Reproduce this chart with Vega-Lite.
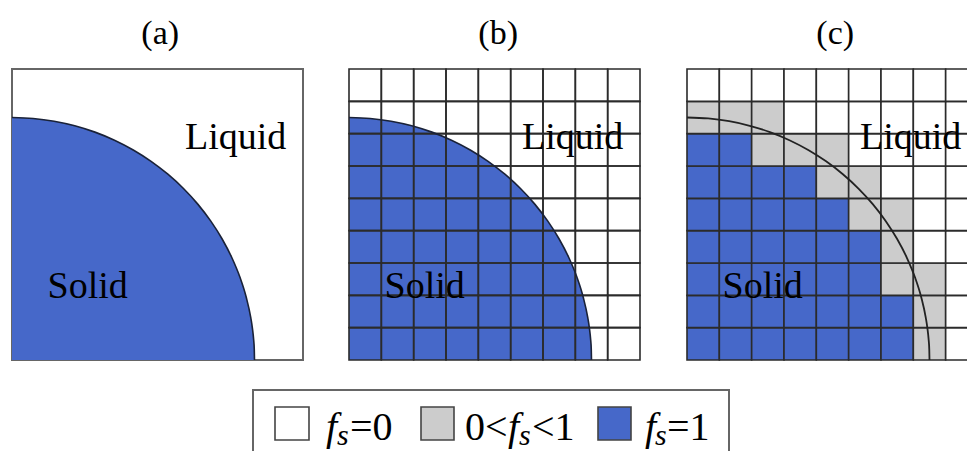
{
  "$schema": "https://vega.github.io/schema/vega-lite/v6.json",
  "width": 967,
  "height": 451,
  "autosize": {"type": "none"},
  "padding": 0,
  "background": "white",
  "config": {"view": {"stroke": null}},
  "datasets": {
    "arc": [
      {"gx": 0, "gy": 7.5}, {"gx": 0.6537, "gy": 7.4714}, {"gx": 1.3024, "gy": 7.3861}, {"gx": 1.9411, "gy": 7.2444},
      {"gx": 2.5652, "gy": 7.0477}, {"gx": 3.1696, "gy": 6.7973}, {"gx": 3.75, "gy": 6.4952}, {"gx": 4.3018, "gy": 6.1436},
      {"gx": 4.8209, "gy": 5.7453}, {"gx": 5.3033, "gy": 5.3033}, {"gx": 5.7453, "gy": 4.8209}, {"gx": 6.1436, "gy": 4.3018},
      {"gx": 6.4952, "gy": 3.75}, {"gx": 6.7973, "gy": 3.1696}, {"gx": 7.0477, "gy": 2.5652}, {"gx": 7.2444, "gy": 1.9411},
      {"gx": 7.3861, "gy": 1.3024}, {"gx": 7.4358, "gy": 0.979}, {"gx": 7.4714, "gy": 0.6537}, {"gx": 7.4929, "gy": 0.3271}, {"gx": 7.5, "gy": 0}
    ],
    "cells": [
      {"c":0,"r":0,"fs":"1"},{"c":1,"r":0,"fs":"1"},{"c":2,"r":0,"fs":"1"},{"c":3,"r":0,"fs":"1"},{"c":4,"r":0,"fs":"1"},{"c":5,"r":0,"fs":"1"},{"c":6,"r":0,"fs":"1"},{"c":7,"r":0,"fs":"0-1"},{"c":8,"r":0,"fs":"0"},
      {"c":0,"r":1,"fs":"1"},{"c":1,"r":1,"fs":"1"},{"c":2,"r":1,"fs":"1"},{"c":3,"r":1,"fs":"1"},{"c":4,"r":1,"fs":"1"},{"c":5,"r":1,"fs":"1"},{"c":6,"r":1,"fs":"1"},{"c":7,"r":1,"fs":"0-1"},{"c":8,"r":1,"fs":"0"},
      {"c":0,"r":2,"fs":"1"},{"c":1,"r":2,"fs":"1"},{"c":2,"r":2,"fs":"1"},{"c":3,"r":2,"fs":"1"},{"c":4,"r":2,"fs":"1"},{"c":5,"r":2,"fs":"1"},{"c":6,"r":2,"fs":"0-1"},{"c":7,"r":2,"fs":"0-1"},{"c":8,"r":2,"fs":"0"},
      {"c":0,"r":3,"fs":"1"},{"c":1,"r":3,"fs":"1"},{"c":2,"r":3,"fs":"1"},{"c":3,"r":3,"fs":"1"},{"c":4,"r":3,"fs":"1"},{"c":5,"r":3,"fs":"1"},{"c":6,"r":3,"fs":"0-1"},{"c":7,"r":3,"fs":"0"},{"c":8,"r":3,"fs":"0"},
      {"c":0,"r":4,"fs":"1"},{"c":1,"r":4,"fs":"1"},{"c":2,"r":4,"fs":"1"},{"c":3,"r":4,"fs":"1"},{"c":4,"r":4,"fs":"1"},{"c":5,"r":4,"fs":"0-1"},{"c":6,"r":4,"fs":"0-1"},{"c":7,"r":4,"fs":"0"},{"c":8,"r":4,"fs":"0"},
      {"c":0,"r":5,"fs":"1"},{"c":1,"r":5,"fs":"1"},{"c":2,"r":5,"fs":"1"},{"c":3,"r":5,"fs":"1"},{"c":4,"r":5,"fs":"0-1"},{"c":5,"r":5,"fs":"0-1"},{"c":6,"r":5,"fs":"0"},{"c":7,"r":5,"fs":"0"},{"c":8,"r":5,"fs":"0"},
      {"c":0,"r":6,"fs":"1"},{"c":1,"r":6,"fs":"1"},{"c":2,"r":6,"fs":"0-1"},{"c":3,"r":6,"fs":"0-1"},{"c":4,"r":6,"fs":"0-1"},{"c":5,"r":6,"fs":"0"},{"c":6,"r":6,"fs":"0"},{"c":7,"r":6,"fs":"0"},{"c":8,"r":6,"fs":"0"},
      {"c":0,"r":7,"fs":"0-1"},{"c":1,"r":7,"fs":"0-1"},{"c":2,"r":7,"fs":"0-1"},{"c":3,"r":7,"fs":"0"},{"c":4,"r":7,"fs":"0"},{"c":5,"r":7,"fs":"0"},{"c":6,"r":7,"fs":"0"},{"c":7,"r":7,"fs":"0"},{"c":8,"r":7,"fs":"0"},
      {"c":0,"r":8,"fs":"0"},{"c":1,"r":8,"fs":"0"},{"c":2,"r":8,"fs":"0"},{"c":3,"r":8,"fs":"0"},{"c":4,"r":8,"fs":"0"},{"c":5,"r":8,"fs":"0"},{"c":6,"r":8,"fs":"0"},{"c":7,"r":8,"fs":"0"},{"c":8,"r":8,"fs":"0"}
    ],
    "notes": [
      {"panel": "a", "kind": "title", "text": "(a)", "gx": 4.0, "gy": 9.77},
      {"panel": "a", "kind": "label", "text": "Liquid", "gx": 5.35, "gy": 6.53},
      {"panel": "a", "kind": "label", "text": "Solid", "gx": 1.1, "gy": 1.93},
      {"panel": "b", "kind": "title", "text": "(b)", "gx": 4.0, "gy": 9.77},
      {"panel": "b", "kind": "label", "text": "Liquid", "gx": 5.35, "gy": 6.53},
      {"panel": "b", "kind": "label", "text": "Solid", "gx": 1.1, "gy": 1.93},
      {"panel": "c", "kind": "title", "text": "(c)", "gx": 4.0, "gy": 9.77},
      {"panel": "c", "kind": "label", "text": "Liquid", "gx": 5.35, "gy": 6.53},
      {"panel": "c", "kind": "label", "text": "Solid", "gx": 1.1, "gy": 1.93}
    ],
    "swatches": [
      {"fs": "0", "x0": 22, "x1": 56},
      {"fs": "0-1", "x0": 168, "x1": 201},
      {"fs": "1", "x0": 345, "x1": 378}
    ],
    "legendText": [
      {"part": "f", "text": "f", "lx": 73, "ly": 50},
      {"part": "s", "text": "s", "lx": 84, "ly": 55},
      {"part": "plain", "text": "=0", "lx": 97, "ly": 50},
      {"part": "plain", "text": "0<", "lx": 212, "ly": 50},
      {"part": "f", "text": "f", "lx": 255, "ly": 50},
      {"part": "s", "text": "s", "lx": 266, "ly": 55},
      {"part": "plain", "text": "<1", "lx": 279, "ly": 50},
      {"part": "f", "text": "f", "lx": 392, "ly": 50},
      {"part": "s", "text": "s", "lx": 402, "ly": 55},
      {"part": "plain", "text": "=1", "lx": 414, "ly": 50}
    ]
  },
  "resolve": {"scale": {"x": "independent", "y": "independent", "color": "independent", "size": "independent"}},
  "layer": [
    {
      "data": {"values": [{"panel": "a"}]},
      "mark": {"type": "rect", "fill": "white", "stroke": "#666666", "strokeWidth": 2},
      "encoding": {
        "x": {"datum": 0, "type": "quantitative", "scale": {"domain": [0, 9], "range": [12, 303], "zero": false, "nice": false}, "axis": null},
        "x2": {"datum": 9},
        "y": {"datum": 0, "type": "quantitative", "scale": {"domain": [0, 9], "range": [360, 69], "zero": false, "nice": false}, "axis": null},
        "y2": {"datum": 9}
      }
    },
    {
      "data": {"name": "arc"},
      "mark": {"type": "area", "color": "#4668c9", "opacity": 1, "orient": "vertical", "interpolate": "monotone"},
      "encoding": {
        "x": {"field": "gx", "type": "quantitative", "scale": {"domain": [0, 9], "range": [12, 303], "zero": false, "nice": false}, "axis": null},
        "y": {"field": "gy", "type": "quantitative", "scale": {"domain": [0, 9], "range": [360, 69], "zero": false, "nice": false}, "axis": null},
        "y2": {"datum": 0}
      }
    },
    {
      "data": {"name": "arc"},
      "mark": {"type": "line", "color": "#1a2238", "strokeWidth": 1.6, "interpolate": "monotone"},
      "encoding": {
        "x": {"field": "gx", "type": "quantitative", "scale": {"domain": [0, 9], "range": [12, 303], "zero": false, "nice": false}, "axis": null},
        "y": {"field": "gy", "type": "quantitative", "scale": {"domain": [0, 9], "range": [360, 69], "zero": false, "nice": false}, "axis": null}
      }
    },
    {
      "data": {"name": "notes"},
      "transform": [{"filter": "datum.panel === 'a'"}],
      "mark": {"type": "text", "font": "Liberation Serif", "align": "left", "baseline": "alphabetic", "color": "black"},
      "encoding": {
        "x": {"field": "gx", "type": "quantitative", "scale": {"domain": [0, 9], "range": [12, 303], "zero": false, "nice": false}, "axis": null},
        "y": {"field": "gy", "type": "quantitative", "scale": {"domain": [0, 9], "range": [360, 69], "zero": false, "nice": false}, "axis": null},
        "text": {"field": "text"},
        "size": {"field": "kind", "type": "nominal", "scale": {"domain": ["title", "label"], "range": [34, 38]}, "legend": null}
      }
    },
    {
      "data": {"name": "arc"},
      "mark": {"type": "area", "color": "#4668c9", "opacity": 1, "orient": "vertical", "interpolate": "monotone"},
      "encoding": {
        "x": {"field": "gx", "type": "quantitative", "scale": {"domain": [0, 9], "range": [349, 640], "zero": false, "nice": false}, "axis": null},
        "y": {"field": "gy", "type": "quantitative", "scale": {"domain": [0, 9], "range": [360, 69], "zero": false, "nice": false}, "axis": null},
        "y2": {"datum": 0}
      }
    },
    {
      "data": {"name": "cells"},
      "mark": {"type": "rect", "filled": false, "stroke": "#2b2b2b", "strokeWidth": 1.6},
      "encoding": {
        "x": {"field": "c", "type": "ordinal", "scale": {"domain": [0,1,2,3,4,5,6,7,8], "range": [349, 640], "paddingInner": 0, "paddingOuter": 0}, "axis": null},
        "y": {"field": "r", "type": "ordinal", "scale": {"domain": [8,7,6,5,4,3,2,1,0], "range": [69, 360], "paddingInner": 0, "paddingOuter": 0}, "axis": null}
      }
    },
    {
      "data": {"name": "arc"},
      "mark": {"type": "line", "color": "#1a2238", "strokeWidth": 1.6, "interpolate": "monotone"},
      "encoding": {
        "x": {"field": "gx", "type": "quantitative", "scale": {"domain": [0, 9], "range": [349, 640], "zero": false, "nice": false}, "axis": null},
        "y": {"field": "gy", "type": "quantitative", "scale": {"domain": [0, 9], "range": [360, 69], "zero": false, "nice": false}, "axis": null}
      }
    },
    {
      "data": {"name": "notes"},
      "transform": [{"filter": "datum.panel === 'b'"}],
      "mark": {"type": "text", "font": "Liberation Serif", "align": "left", "baseline": "alphabetic", "color": "black"},
      "encoding": {
        "x": {"field": "gx", "type": "quantitative", "scale": {"domain": [0, 9], "range": [349, 640], "zero": false, "nice": false}, "axis": null},
        "y": {"field": "gy", "type": "quantitative", "scale": {"domain": [0, 9], "range": [360, 69], "zero": false, "nice": false}, "axis": null},
        "text": {"field": "text"},
        "size": {"field": "kind", "type": "nominal", "scale": {"domain": ["title", "label"], "range": [34, 38]}, "legend": null}
      }
    },
    {
      "data": {"name": "cells"},
      "mark": {"type": "rect", "stroke": "#2b2b2b", "strokeWidth": 1.6, "opacity": 1},
      "encoding": {
        "x": {"field": "c", "type": "ordinal", "scale": {"domain": [0,1,2,3,4,5,6,7,8], "range": [687, 978], "paddingInner": 0, "paddingOuter": 0}, "axis": null},
        "y": {"field": "r", "type": "ordinal", "scale": {"domain": [8,7,6,5,4,3,2,1,0], "range": [69, 360], "paddingInner": 0, "paddingOuter": 0}, "axis": null},
        "fill": {"field": "fs", "type": "nominal", "scale": {"domain": ["0", "0-1", "1"], "range": ["#ffffff", "#cccccc", "#4668c9"]}, "legend": null}
      }
    },
    {
      "data": {"name": "arc"},
      "mark": {"type": "line", "color": "#222222", "strokeWidth": 1.8, "interpolate": "monotone"},
      "encoding": {
        "x": {"field": "gx", "type": "quantitative", "scale": {"domain": [0, 9], "range": [687, 978], "zero": false, "nice": false}, "axis": null},
        "y": {"field": "gy", "type": "quantitative", "scale": {"domain": [0, 9], "range": [360, 69], "zero": false, "nice": false}, "axis": null}
      }
    },
    {
      "data": {"name": "notes"},
      "transform": [{"filter": "datum.panel === 'c'"}],
      "mark": {"type": "text", "font": "Liberation Serif", "align": "left", "baseline": "alphabetic", "color": "black"},
      "encoding": {
        "x": {"field": "gx", "type": "quantitative", "scale": {"domain": [0, 9], "range": [687, 978], "zero": false, "nice": false}, "axis": null},
        "y": {"field": "gy", "type": "quantitative", "scale": {"domain": [0, 9], "range": [360, 69], "zero": false, "nice": false}, "axis": null},
        "text": {"field": "text"},
        "size": {"field": "kind", "type": "nominal", "scale": {"domain": ["title", "label"], "range": [34, 38]}, "legend": null}
      }
    },
    {
      "data": {"values": [{"item": "legend"}]},
      "mark": {"type": "rect", "fill": "white", "stroke": "#666666", "strokeWidth": 2},
      "encoding": {
        "x": {"datum": 0, "type": "quantitative", "scale": {"domain": [0, 476], "range": [253, 729], "zero": false, "nice": false}, "axis": null},
        "x2": {"datum": 476},
        "y": {"datum": 0, "type": "quantitative", "scale": {"domain": [0, 61], "range": [390, 451], "zero": false, "nice": false}, "axis": null},
        "y2": {"datum": 90}
      }
    },
    {
      "data": {"name": "swatches"},
      "mark": {"type": "rect", "stroke": "#444444", "strokeWidth": 1.6},
      "encoding": {
        "x": {"field": "x0", "type": "quantitative", "scale": {"domain": [0, 476], "range": [253, 729], "zero": false, "nice": false}, "axis": null},
        "x2": {"field": "x1"},
        "y": {"datum": 17, "type": "quantitative", "scale": {"domain": [0, 61], "range": [390, 451], "zero": false, "nice": false}, "axis": null},
        "y2": {"datum": 50},
        "fill": {"field": "fs", "type": "nominal", "scale": {"domain": ["0", "0-1", "1"], "range": ["#ffffff", "#cccccc", "#4668c9"]}, "legend": null}
      }
    },
    {
      "data": {"name": "legendText"},
      "transform": [{"filter": "datum.part === 'f'"}],
      "mark": {"type": "text", "font": "Liberation Serif", "fontStyle": "italic", "fontSize": 40, "align": "left", "baseline": "alphabetic", "color": "black"},
      "encoding": {
        "x": {"field": "lx", "type": "quantitative", "scale": {"domain": [0, 476], "range": [253, 729], "zero": false, "nice": false}, "axis": null},
        "y": {"field": "ly", "type": "quantitative", "scale": {"domain": [0, 61], "range": [390, 451], "zero": false, "nice": false}, "axis": null},
        "text": {"field": "text"}
      }
    },
    {
      "data": {"name": "legendText"},
      "transform": [{"filter": "datum.part === 's'"}],
      "mark": {"type": "text", "font": "Liberation Serif", "fontStyle": "italic", "fontSize": 30, "align": "left", "baseline": "alphabetic", "color": "black"},
      "encoding": {
        "x": {"field": "lx", "type": "quantitative", "scale": {"domain": [0, 476], "range": [253, 729], "zero": false, "nice": false}, "axis": null},
        "y": {"field": "ly", "type": "quantitative", "scale": {"domain": [0, 61], "range": [390, 451], "zero": false, "nice": false}, "axis": null},
        "text": {"field": "text"}
      }
    },
    {
      "data": {"name": "legendText"},
      "transform": [{"filter": "datum.part === 'plain'"}],
      "mark": {"type": "text", "font": "Liberation Serif", "fontSize": 40, "align": "left", "baseline": "alphabetic", "color": "black"},
      "encoding": {
        "x": {"field": "lx", "type": "quantitative", "scale": {"domain": [0, 476], "range": [253, 729], "zero": false, "nice": false}, "axis": null},
        "y": {"field": "ly", "type": "quantitative", "scale": {"domain": [0, 61], "range": [390, 451], "zero": false, "nice": false}, "axis": null},
        "text": {"field": "text"}
      }
    }
  ]
}
